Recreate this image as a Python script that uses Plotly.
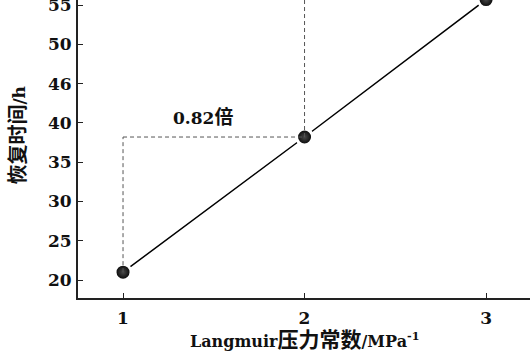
import plotly.graph_objects as go

# Data
x_vals = [1, 2, 3]
y_vals = [21.0, 38.2, 55.7]
y_tickvals = [20, 25, 30, 35, 40, 45, 50, 55]
y_ticktext = ["20", "25", "30", "35", "40", "46", "50", "55"]
x_tickvals = [1, 2, 3]
x_ticktext = ["1", "2", "3"]
ratio_label = "0.82<span style='font-size:19px'>倍</span>"
x_title = "Langmuir<span style='font-size:21px'>压力常数</span>/MPa<sup>-1</sup>"
y_title = "<span style='font-size:20px'>恢复时间</span>/h"

FONT = "DejaVu Serif, Noto Sans CJK SC, serif"
TXT = "#111111"

def f(size=17):
    return dict(family=FONT, size=size, color=TXT, weight="bold")

fig = go.Figure()

# dashed guide lines
guide = dict(color="#555555", width=1, dash="4px,3px")
fig.add_shape(type="line", xref="x", yref="y", x0=x_vals[0], x1=x_vals[0],
              y0=y_vals[0], y1=y_vals[1], line=guide)
fig.add_shape(type="line", xref="x", yref="y", x0=x_vals[0], x1=x_vals[1],
              y0=y_vals[1], y1=y_vals[1], line=guide)
fig.add_shape(type="line", xref="x", yref="y", x0=x_vals[1], x1=x_vals[1],
              y0=y_vals[1], y1=60, line=guide)

fig.add_trace(go.Scatter(
    x=x_vals, y=y_vals, mode="lines+markers",
    line=dict(color="black", width=1.5),
    marker=dict(size=16, color="black",
                gradient=dict(type="radial", color="#4a4a4a"),
                line=dict(color="white", width=3)),
    cliponaxis=True, showlegend=False,
))

fig.add_annotation(x=1.44, y=40.7, xref="x", yref="y", text=ratio_label,
                   showarrow=False, font=f(17),
                   xanchor="center", yanchor="middle")

fig.add_annotation(x=0, y=0.545, xref="paper", yref="paper", text=y_title,
                   textangle=-90, showarrow=False, xshift=-60,
                   font=f(17), xanchor="center", yanchor="middle")

fig.add_annotation(x=0.5, y=0, xref="paper", yref="paper", text=x_title,
                   showarrow=False, yshift=-41,
                   font=f(16), xanchor="center", yanchor="middle")

axis_common = dict(ticks="inside", ticklen=5, tickwidth=1.2, tickcolor="#222222",
                   showline=True, linecolor="#222222", linewidth=2, mirror=False,
                   showgrid=False, zeroline=False, automargin=False,
                   ticklabeloverflow="allow",
                   tickfont=f(17))

fig.update_layout(
    width=530, height=355,
    margin=dict(l=78, r=0, t=0, b=57, autoexpand=False),
    paper_bgcolor="white", plot_bgcolor="white",
    font=f(17),
    xaxis=dict(range=[0.752, 3.242], tickvals=x_tickvals, ticktext=x_ticktext,
               ticklabelstandoff=4, **axis_common),
    yaxis=dict(range=[17.71, 55.64], tickvals=y_tickvals, ticktext=y_ticktext,
               ticklabelstandoff=1, **axis_common),
)

fig.write_html("out.html", config={"displayModeBar": False},
               post_script="document.body.style.margin='0';document.body.style.overflow='hidden';")
